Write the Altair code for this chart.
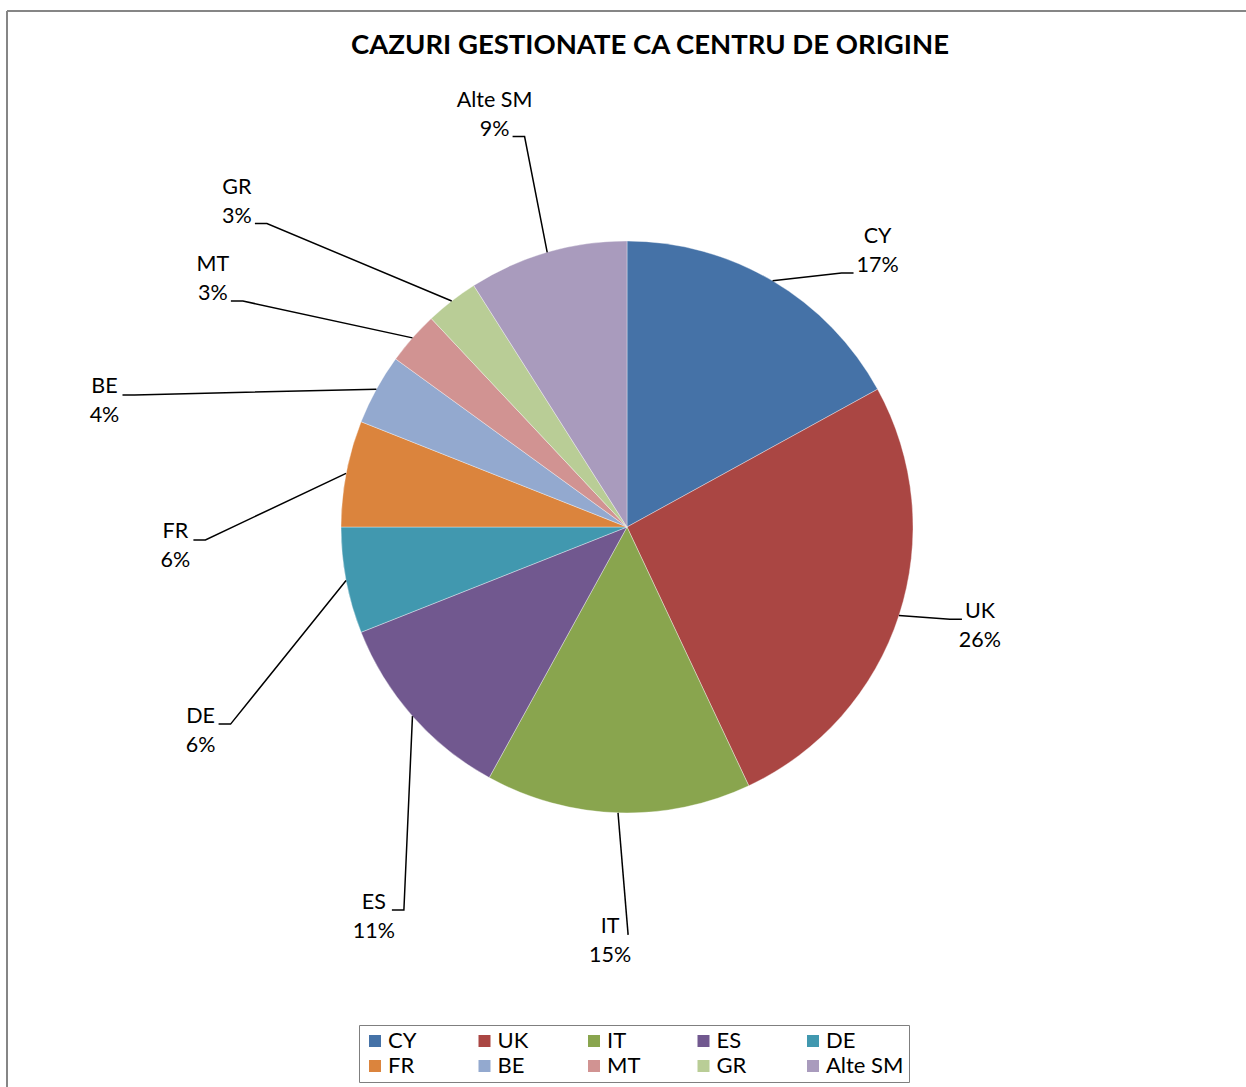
import math

import altair as alt
import pandas as pd

# ---- data -------------------------------------------------------------
countries = ["CY", "UK", "IT", "ES", "DE", "FR", "BE", "MT", "GR", "Alte SM"]
shares = [17, 26, 15, 11, 6, 6, 4, 3, 3, 9]  # percent of cases
palette = ["#4572A7", "#AA4643", "#89A54E", "#71588F", "#4198AF",
           "#DB843D", "#93A9CF", "#D19392", "#B9CD96", "#A99BBD"]
TITLE = "CAZURI GESTIONATE CA CENTRU DE ORIGINE"

# placement of each data label (name line), in pie radii from the centre
label_x = [0.876, 1.234, -0.059, -0.885, -1.491, -1.579, -1.827, -1.448, -1.364, -0.463]
label_y = [1.014, -0.296, -1.400, -1.313, -0.663, -0.019, 0.488, 0.916, 1.187, 1.491]

# ---- layout -----------------------------------------------------------
FONT = "Lato"
LABEL_SIZE = 21.5
LINE_GAP = 29          # distance between the name line and the percent line
R = 286                # pie radius in px
VW, VH = 1239, 1076    # plot area
CX, CY = 620, 516      # pie centre inside the plot area
STUB = 12              # horizontal end piece of a leader line

xs = alt.Scale(domain=[-CX / R, (VW - CX) / R], nice=False, zero=False)
ys = alt.Scale(domain=[-(VH - CY) / R, CY / R], nice=False, zero=False)

slices = pd.DataFrame({
    "name": countries,
    "share": shares,
    "idx": list(range(len(countries))),
    "pct": [f"{v}%" for v in shares],
    "lx": label_x,
    "ly": label_y,
})

# leader lines: slice edge at mid-angle -> elbow -> end beside the label
total = float(sum(shares))
rows = []
cum = 0.0
for name, v, pct, lx, ly in zip(countries, shares, slices["pct"], label_x, label_y):
    mid = (cum + v / 2) / total * 2 * math.pi
    cum += v
    ex, ey = math.sin(mid), math.cos(mid)
    side = -1 if lx > 0 else 1
    # labels high above the pie are joined at their percent line
    second = ly > 0.8
    attached = pct if second else name
    half = len(attached) * 6 + 6
    end_x = lx + side * half / R
    end_y = ly - ((LINE_GAP + 7) if second else 7.5) / R
    # a label sitting straight under its slice gets a plain straight leader
    stub = 0 if abs(lx - ex) < 0.08 else STUB
    elbow_x = end_x + side * stub / R
    rows += [
        {"name": name, "seq": 0, "x": ex, "y": ey},
        {"name": name, "seq": 1, "x": elbow_x, "y": end_y},
        {"name": name, "seq": 2, "x": end_x, "y": end_y},
    ]
leaders = pd.DataFrame(rows)

X0 = alt.X(datum=0, type="quantitative", scale=xs, axis=None)
Y0 = alt.Y(datum=0, type="quantitative", scale=ys, axis=None)

pie = alt.Chart(slices).mark_arc(
    outerRadius=R, stroke="white", strokeWidth=0.6, strokeOpacity=0.6
).encode(
    theta=alt.Theta("share:Q", stack=True),
    order=alt.Order("idx:Q"),
    color=alt.Color(
        "name:N",
        scale=alt.Scale(domain=countries, range=palette),
        legend=alt.Legend(
            title=None,
            orient="none",
            legendX=352,
            legendY=1014,
            direction="horizontal",
            columns=5,
            gridAlign="all",
            symbolType="square",
            symbolSize=144,
            symbolStrokeWidth=0,
            labelFont=FONT,
            labelFontSize=22,
            labelColor="black",
            labelOffset=2,
            columnPadding=7.5,
            rowPadding=3,
            padding=5,
            strokeColor="#7f7f7f",
        ),
    ),
    x=X0,
    y=Y0,
)

lines = alt.Chart(leaders).mark_line(color="black", strokeWidth=1.5).encode(
    x=alt.X("x:Q", scale=xs, axis=None),
    y=alt.Y("y:Q", scale=ys, axis=None),
    detail="name:N",
    order="seq:Q",
)

name_text = alt.Chart(slices).mark_text(
    font=FONT, fontSize=LABEL_SIZE, color="black", align="center", baseline="middle"
).encode(
    x=alt.X("lx:Q", scale=xs, axis=None),
    y=alt.Y("ly:Q", scale=ys, axis=None),
    text="name:N",
)

pct_text = alt.Chart(slices).mark_text(
    font=FONT, fontSize=LABEL_SIZE, color="black", align="center", baseline="middle",
    dy=LINE_GAP,
).encode(
    x=alt.X("lx:Q", scale=xs, axis=None),
    y=alt.Y("ly:Q", scale=ys, axis=None),
    text="pct:N",
)

title = alt.Chart(pd.DataFrame({"t": [TITLE]})).mark_text(
    font=FONT, fontSize=27.5, fontWeight="bold", color="black",
    align="center", baseline="middle",
).encode(text="t:N", x=alt.value(643), y=alt.value(35))

frame_left = alt.Chart(pd.DataFrame({"k": [0]})).mark_rule(
    color="#868686", strokeWidth=2
).encode(x=alt.value(0), y=alt.value(0), y2=alt.value(VH + 20))

frame_top = alt.Chart(pd.DataFrame({"k": [0]})).mark_rule(
    color="#868686", strokeWidth=2
).encode(x=alt.value(0), x2=alt.value(VW + 20), y=alt.value(0))

chart = alt.layer(
    pie, lines, name_text, pct_text, title, frame_left, frame_top
).properties(
    width=VW,
    height=VH,
    padding={"left": 7, "top": 11, "right": 0, "bottom": 0},
    autosize=alt.AutoSizeParams(type="none"),
    background="white",
).configure_view(stroke=None)

chart.save("out.html", embed_options={"renderer": "svg", "actions": False})
